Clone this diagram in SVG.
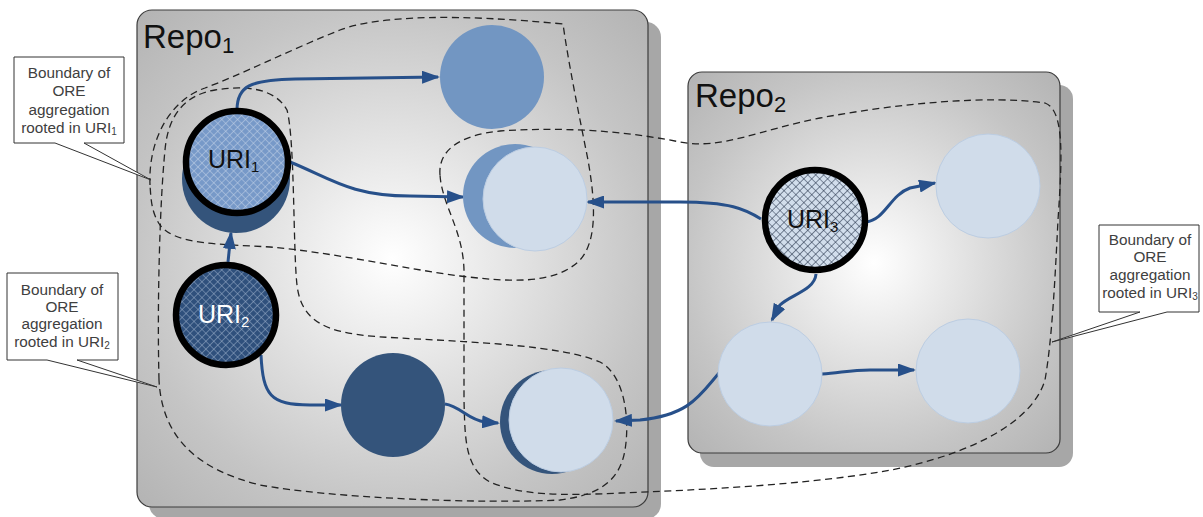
<svg xmlns="http://www.w3.org/2000/svg" width="1203" height="517" viewBox="0 0 1203 517">
  <style>
    .repo-shadow { fill: #a7a7a7; }
    .repo-box { fill: url(#repoFill); stroke: #3c3c3c; stroke-width: 1.2; }
    .repo-label { font-family: "Liberation Sans", Arial, sans-serif; font-size: 33px; fill: #111; }
    .boundary { fill: none; stroke: #222; stroke-width: 1.3; stroke-dasharray: 7 4.5; }
    .callout { fill: #fff; stroke: #333; stroke-width: 1; }
    .callout-text { font-family: "Liberation Sans", Arial, sans-serif; font-size: 15.3px; fill: #404040; text-anchor: middle; }
    .edge { fill: none; stroke: #27508a; stroke-width: 3; marker-end: url(#arrow); }
    .light { fill: #d0dcea; stroke: #bccde2; stroke-width: 1; }
    .mid { fill: #7296c2; }
    .dark { fill: #34547b; }
    .ring { stroke: #000; stroke-width: 6.5; }
    .uri-label { font-family: "Liberation Sans", Arial, sans-serif; font-size: 25px; }
  </style>
  <defs>
    <radialGradient id="repoFill" cx="0.5" cy="0.5" r="0.72">
      <stop offset="0" stop-color="#ffffff"/>
      <stop offset="0.35" stop-color="#e2e2e2"/>
      <stop offset="0.7" stop-color="#c5c5c5"/>
      <stop offset="1" stop-color="#b2b2b2"/>
    </radialGradient>
    <pattern id="hatchMid" width="5.6" height="5.6" patternUnits="userSpaceOnUse" patternTransform="rotate(45)">
      <rect width="5.6" height="5.6" fill="#7799c8"/>
      <path d="M0,0H5.6M0,0V5.6" stroke="#c4d3e8" stroke-width="1"/>
    </pattern>
    <pattern id="hatchDark" width="5.6" height="5.6" patternUnits="userSpaceOnUse" patternTransform="rotate(45)">
      <rect width="5.6" height="5.6" fill="#2f507c"/>
      <path d="M0,0H5.6M0,0V5.6" stroke="#9fb2cc" stroke-width="1"/>
    </pattern>
    <pattern id="hatchLight" width="5.6" height="5.6" patternUnits="userSpaceOnUse" patternTransform="rotate(45)">
      <rect width="5.6" height="5.6" fill="#d2deec"/>
      <path d="M0,0H5.6M0,0V5.6" stroke="#1f2d44" stroke-width="1.1"/>
    </pattern>
    <marker id="arrow" viewBox="0 0 18 13" refX="16" refY="6.5" markerWidth="18" markerHeight="13" markerUnits="userSpaceOnUse" orient="auto">
      <path d="M0,0 L18,6.5 L0,13 Z" fill="#27508a"/>
    </marker>
  </defs>

  <!-- repositories -->
  <g id="repo1">
    <rect class="repo-shadow" x="149" y="22" width="512" height="497" rx="15"/>
    <rect class="repo-box" x="137" y="10" width="511" height="497" rx="15"/>
    <text class="repo-label" x="143" y="48">Repo<tspan font-size="22" dy="5">1</tspan></text>
  </g>
  <g id="repo2">
    <rect class="repo-shadow" x="700" y="85" width="373" height="382" rx="14"/>
    <rect class="repo-box" x="688" y="72" width="372" height="381" rx="14"/>
    <text class="repo-label" x="695" y="107">Repo<tspan font-size="22" dy="5">2</tspan></text>
  </g>

  <!-- aggregation boundaries -->
  <g id="boundaries">
    <path id="boundary-uri1" class="boundary" d="M150,185 C148,140 170,100 205,88 C240,75 290,50 340,30 C380,15 460,14 563,24 C568,60 578,110 588,160 C595,200 598,240 580,260 C555,285 510,282 460,276 C400,268 330,252 270,247 C220,244 175,245 160,225 C151,212 151,198 150,185 Z"/>
    <path id="boundary-uri2" class="boundary" d="M159,380 C157,300 160,200 165,150 C168,115 185,95 215,90 C245,85 275,88 287,110 C295,140 293,250 297,285 C302,330 340,335 400,338 C470,342 560,345 600,362 C625,375 630,420 625,450 C620,480 600,495 560,500 C480,504 330,498 260,485 C200,470 162,440 159,380 Z"/>
    <path id="boundary-uri3" class="boundary" d="M440,175 C438,150 460,135 500,131 C560,127 620,130 680,142 C720,150 760,130 820,118 C900,103 990,95 1045,103 C1065,110 1062,160 1058,220 C1055,280 1052,340 1045,380 C1030,430 950,460 880,472 C800,485 700,490 620,493 C560,496 520,495 490,482 C465,468 465,440 464,400 L464,270 C463,230 442,205 440,175 Z"/>
  </g>

  <!-- callouts -->
  <g id="callout-uri1">
    <path class="callout" d="M14,57 H124 V143 H84 L151,180 L55,143 H14 Z"/>
    <text class="callout-text" x="69" y="78">Boundary of</text>
    <text class="callout-text" x="69" y="96">ORE</text>
    <text class="callout-text" x="69" y="115">aggregation</text>
    <text class="callout-text" x="69" y="133">rooted in URI<tspan font-size="10" dy="2">1</tspan></text>
  </g>
  <g id="callout-uri2">
    <path class="callout" d="M7,273 H118 V360 H77 L157,387 L47,360 H7 Z"/>
    <text class="callout-text" x="62" y="295">Boundary of</text>
    <text class="callout-text" x="62" y="312">ORE</text>
    <text class="callout-text" x="62" y="329">aggregation</text>
    <text class="callout-text" x="62" y="347">rooted in URI<tspan font-size="10" dy="2">2</tspan></text>
  </g>
  <g id="callout-uri3">
    <path class="callout" d="M1099,225 H1199 V312 H1167 L1052,342 L1140,312 H1099 Z"/>
    <text class="callout-text" x="1150" y="245">Boundary of</text>
    <text class="callout-text" x="1150" y="262">ORE</text>
    <text class="callout-text" x="1150" y="280">aggregation</text>
    <text class="callout-text" x="1150" y="298">rooted in URI<tspan font-size="10" dy="2">3</tspan></text>
  </g>

  <!-- connectors -->
  <g id="connectors">
    <path class="edge" d="M237,110 C237,86 250,80 295,79 L438,77"/>
    <path class="edge" d="M290,162 C330,178 350,196 410,196 L463,197"/>
    <path class="edge" d="M228,262 L231,233"/>
    <path class="edge" d="M261,355 C263,395 270,405 310,405 L341,405"/>
    <path class="edge" d="M445,404 C460,406 468,420 485,422 L498,423"/>
    <path class="edge" d="M719,373 C700,395 690,415 640,420 L616,421"/>
    <path class="edge" d="M761,219 C745,209 730,202 680,202 L588,202"/>
    <path class="edge" d="M866,222 C885,220 890,195 910,188 L935,183"/>
    <path class="edge" d="M816,274 C815,290 790,295 780,305 L772,320"/>
    <path class="edge" d="M822,374 C840,373 850,370 870,370 L914,370"/>
  </g>

  <!-- nodes -->
  <g id="node-top">
    <circle class="mid" cx="492" cy="77" r="52"/>
  </g>
  <g id="node-uri1">
    <circle class="dark" cx="236" cy="179" r="54" fill="#3b5e8c"/>
    <circle class="ring" cx="237" cy="162" r="51" fill="url(#hatchMid)"/>
    <text class="uri-label" x="208" y="168" fill="#111">URI<tspan font-size="15" dy="4">1</tspan></text>
  </g>
  <g id="node-shared-top">
    <circle class="mid" cx="515" cy="196" r="52"/>
    <circle class="light" cx="535" cy="199" r="52"/>
  </g>
  <g id="node-uri2">
    <circle class="ring" cx="226" cy="315" r="50" fill="url(#hatchDark)"/>
    <text class="uri-label" x="198" y="323" fill="#fff">URI<tspan font-size="15" dy="4">2</tspan></text>
  </g>
  <g id="node-dark">
    <circle class="dark" cx="393" cy="405" r="52"/>
  </g>
  <g id="node-shared-bottom">
    <circle class="dark" cx="552" cy="422" r="52"/>
    <circle class="light" cx="561" cy="420" r="52"/>
  </g>
  <g id="node-uri3">
    <circle class="ring" cx="815" cy="220" r="50" fill="url(#hatchLight)"/>
    <text class="uri-label" x="787" y="228" fill="#111">URI<tspan font-size="15" dy="4">3</tspan></text>
  </g>
  <g id="node-r2-top">
    <circle class="light" cx="988" cy="186" r="52"/>
  </g>
  <g id="node-r2-left">
    <circle class="light" cx="770" cy="374" r="52"/>
  </g>
  <g id="node-r2-right">
    <circle class="light" cx="968" cy="371" r="52"/>
  </g>
</svg>
